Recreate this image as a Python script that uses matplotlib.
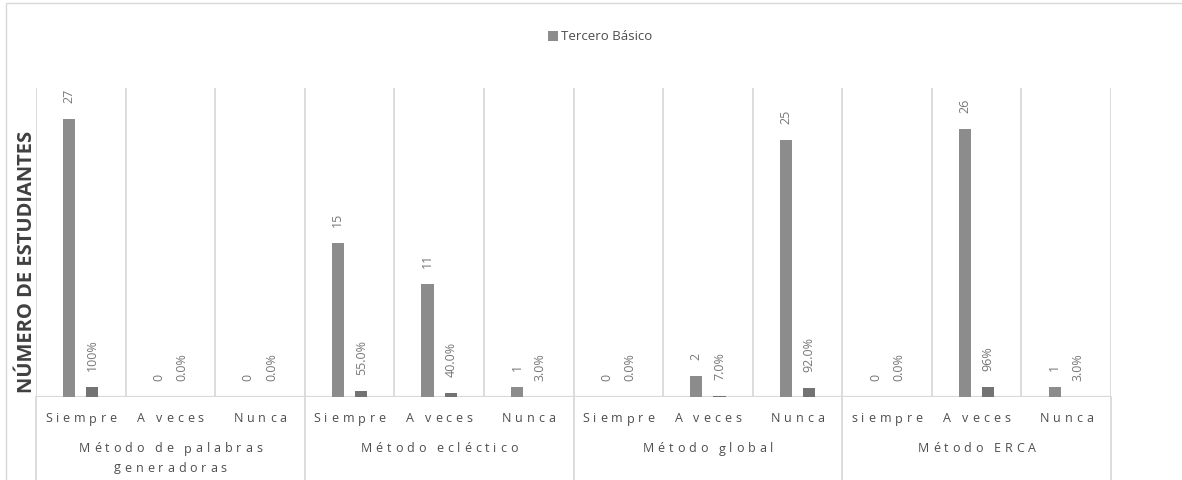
import numpy as np
import matplotlib
matplotlib.use("Agg")
import matplotlib.pyplot as plt
from matplotlib.font_manager import FontProperties
from matplotlib.textpath import TextToPath
from matplotlib.patches import Rectangle

# ---- data -------------------------------------------------------------
methods = ["Método de palabras\ngeneradoras", "Método ecléctico",
           "Método global", "Método ERCA"]
responses = ["Siempre", "A veces", "Nunca",
             "Siempre", "A veces", "Nunca",
             "Siempre", "A veces", "Nunca",
             "siempre", "A veces", "Nunca"]
students = [27, 0, 0, 15, 11, 1, 0, 2, 25, 0, 26, 1]
shares = [1.00, 0.0, 0.0, 0.55, 0.40, 0.03, 0.0, 0.07, 0.92, 0.0, 0.96, 0.03]
share_decimals = [0, 1, 1, 1, 1, 1, 1, 1, 1, 1, 0, 1]
series_name = "Tercero Básico"
y_title = "NÚMERO DE ESTUDIANTES"

# ---- style ------------------------------------------------------------
FAMILY = ["Open Sans", "DejaVu Sans"]
plt.rcParams["font.family"] = FAMILY
GRID = "#d9d9d9"
TEXT = "#4d4d4d"
LABEL = "#777777"
BAR1 = "#8c8c8c"
BAR2 = "#737373"

W, H = 1182, 480
fig = plt.figure(figsize=(W / 100, H / 100), dpi=100)

# chart-area border
fig.add_artist(Rectangle((6 / W, -0.1), 1.5, 1 - 3 / H + 0.1,
                         transform=fig.transFigure, fill=False,
                         edgecolor=GRID, lw=1.0))

ax = fig.add_axes([36 / W, 1 - 397 / H, (1111 - 36) / W, (397 - 88) / H])
n = len(students)
xc = np.arange(n) + 0.5
off, bw = 0.13, 0.135

b1 = ax.bar(xc - off, students, bw, color=BAR1, zorder=3)
b2 = ax.bar(xc + off, shares, bw, color=BAR2, zorder=3)

ax.set_xlim(0, n)
ax.set_ylim(0, 30)
ax.set_xticks([])
ax.set_yticks([])
for s in ax.spines.values():
    s.set_visible(False)

for i in range(n + 1):
    ax.axvline(i, color=GRID, lw=1.3, zorder=1)
ax.axhline(0, color=GRID, lw=1.6, zorder=2)
for i in range(0, n + 1, 3):
    ax.plot([i, i], [0, -0.4], transform=ax.get_xaxis_transform(),
            color=GRID, lw=1.3, clip_on=False, zorder=1)

# data labels
for x, v in zip(xc - off, students):
    ax.annotate(f"{v}", (x, v), xytext=(0, 11.5), textcoords="offset points",
                rotation=90, ha="center", va="bottom", fontsize=9,
                color=LABEL)
for x, v, d in zip(xc + off, shares, share_decimals):
    ax.annotate(f"{v * 100:.{d}f}%", (x, v), xytext=(0, 11.5),
                textcoords="offset points", rotation=90, ha="center",
                va="bottom", fontsize=9, color=LABEL)

# letter-spaced category text
_t2p = TextToPath()


def _w(s, prop):
    return _t2p.get_text_width_height_descent(s, prop, ismath=False)[0]


def spaced_text(x, y_px, s, size, tracking, color):
    prop = FontProperties(family=FAMILY, size=size)
    base = _w("nn", prop)
    widths = [_w("n" + c + "n", prop) - base for c in s]
    total = sum(widths) + tracking * (len(s) - 1)
    pos = -total / 2
    trans = ax.get_xaxis_transform()
    yax = (397 - y_px) / (397 - 88)
    for c, w in zip(s, widths):
        if c != " ":
            ax.annotate(c, (x, yax), xycoords=trans, xytext=(pos, 0),
                        textcoords="offset points", ha="left", va="center",
                        fontproperties=prop, color=color, annotation_clip=False)
        pos += w + tracking


for x, r in zip(xc, responses):
    spaced_text(x, 419, r, 9, 2.8, TEXT)
for g, m in enumerate(methods):
    for k, line in enumerate(m.split("\n")):
        spaced_text(3 * g + 1.5, 449 + 19 * k, line, 9, 2.8, TEXT)

# axis title
fig.text(27 / W, 1 - 262 / H, y_title, rotation=90, ha="center", va="center",
         fontsize=14.5, fontweight="bold", color="#404040")

# legend
fig.legend([b1], [series_name], loc="center", bbox_to_anchor=(600 / W, 1 - 37 / H),
           frameon=False, fontsize=9.5, handlelength=0.75, handleheight=0.75,
           handletextpad=0.25, labelcolor=TEXT)

fig.savefig("out.png", dpi=100)
